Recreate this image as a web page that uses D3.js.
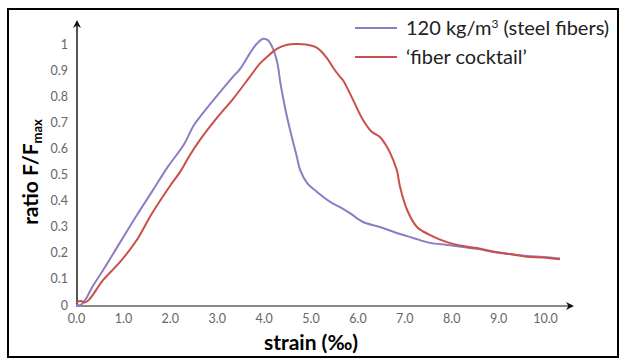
<!DOCTYPE html>
<html>
<head>
<meta charset="utf-8">
<script src="https://cdn.jsdelivr.net/npm/d3@7"></script>
<style>
  html, body { margin: 0; padding: 0; background: #fff; }
  svg { display: block; }
</style>
</head>
<body>
<svg id="chart" width="621" height="359"></svg>
<script>
// Strain (‰) and normalised force F/Fmax for the two mixes
const steelStrain = [0, 0.1, 0.2, 0.35, 0.58, 0.94, 1.3, 1.64, 1.96, 2.3, 2.5, 2.64, 3.0, 3.35, 3.5, 3.71, 3.85, 3.99, 4.09, 4.18, 4.29, 4.35, 4.41, 4.5, 4.6, 4.71, 4.78, 4.93, 5.14, 5.42, 5.63, 5.84, 6.12, 6.48, 6.84, 7.19, 7.55, 7.91, 8.25, 8.55, 8.89, 9.25, 9.62, 9.96, 10.32];
const steelRatio  = [0, 0.0, 0.02, 0.07, 0.134, 0.24, 0.345, 0.44, 0.53, 0.615, 0.685, 0.72, 0.80, 0.875, 0.905, 0.965, 1.0, 1.02, 1.015, 0.99, 0.93, 0.86, 0.80, 0.72, 0.645, 0.567, 0.517, 0.467, 0.433, 0.395, 0.375, 0.352, 0.318, 0.299, 0.276, 0.257, 0.238, 0.23, 0.222, 0.215, 0.203, 0.195, 0.188, 0.184, 0.178];

const cocktailStrain = [0, 0.1, 0.2, 0.3, 0.58, 0.94, 1.3, 1.6, 2.0, 2.22, 2.43, 2.64, 3.0, 3.35, 3.71, 3.92, 4.07, 4.29, 4.5, 4.7, 4.9, 5.14, 5.35, 5.48, 5.63, 5.69, 5.91, 6.12, 6.3, 6.48, 6.6, 6.7, 6.84, 6.91, 7.06, 7.27, 7.55, 7.91, 8.25, 8.55, 8.89, 9.25, 9.62, 9.96, 10.32];
const cocktailRatio  = [0.01, 0.015, 0.01, 0.025, 0.096, 0.165, 0.25, 0.345, 0.455, 0.51, 0.575, 0.632, 0.716, 0.79, 0.875, 0.925, 0.95, 0.982, 0.997, 1.0, 0.998, 0.985, 0.946, 0.91, 0.874, 0.862, 0.785, 0.709, 0.665, 0.644, 0.615, 0.582, 0.517, 0.452, 0.364, 0.299, 0.268, 0.241, 0.226, 0.218, 0.205, 0.195, 0.185, 0.182, 0.175];

const xTicks = [0, 1, 2, 3, 4, 5, 6, 7, 8, 9, 10];
const yTicks = [0, 0.1, 0.2, 0.3, 0.4, 0.5, 0.6, 0.7, 0.8, 0.9, 1];

const seriesNames  = ["120 kg/m³ (steel fibers)", "‘fiber cocktail’"];
const seriesColors = ["#8f7cc4", "#c9504a"];

const svg = d3.select("#chart");
const font = "Lato, 'Open Sans', sans-serif";

const x = d3.scaleLinear().domain([0, 10]).range([76, 545]);
const y = d3.scaleLinear().domain([0, 1]).range([305, 44]);

// outer frame
svg.append("rect")
  .attr("x", 8).attr("y", 9).attr("width", 610).attr("height", 348)
  .attr("fill", "none").attr("stroke", "#000").attr("stroke-width", 2);

// arrowheads
const defs = svg.append("defs");
defs.append("marker")
  .attr("id", "arrow").attr("viewBox", "0 0 10 10")
  .attr("refX", 5).attr("refY", 5)
  .attr("markerWidth", 4).attr("markerHeight", 4)
  .attr("orient", "auto")
  .append("path").attr("d", "M0,0 L10,5 L0,10 L3,5 Z").attr("fill", "#111");

// y axis (labels only, no tick marks)
const yAxis = d3.axisLeft(y).tickValues(yTicks).tickSize(0).tickPadding(9)
  .tickFormat(d => d === 0 ? "0" : d === 1 ? "1" : d3.format(".1f")(d));
const gy = svg.append("g").attr("transform", `translate(${x(0) + 1},0)`).call(yAxis);
gy.select(".domain").remove();
gy.selectAll("text").attr("fill", "#666").style("font-family", font).style("font-size", "12.5px");

const xAxis = d3.axisBottom(x).tickValues(xTicks).tickSize(0).tickPadding(8)
  .tickFormat(d3.format(".1f"));
const gx = svg.append("g").attr("transform", `translate(0,${y(0) + 1})`).call(xAxis);
gx.select(".domain").remove();
gx.selectAll("text").attr("fill", "#666").style("font-family", font).style("font-size", "12.5px");

// axis lines with arrows
svg.append("line")
  .attr("x1", x(0) + 1).attr("y1", y(0) + 1).attr("x2", x(0) + 1).attr("y2", 24)
  .attr("stroke", "#555").attr("stroke-width", 2).attr("marker-end", "url(#arrow)");
svg.append("line")
  .attr("x1", x(0)).attr("y1", y(0) + 1).attr("x2", 570).attr("y2", y(0) + 1)
  .attr("stroke", "#888").attr("stroke-width", 2).attr("marker-end", "url(#arrow)");

// curves
const line = d3.line().x(d => x(d[0])).y(d => y(d[1])).curve(d3.curveCatmullRom.alpha(0.5));
const series = [
  d3.zip(steelStrain, steelRatio),
  d3.zip(cocktailStrain, cocktailRatio)
];
series.forEach((pts, i) => {
  svg.append("path").datum(pts)
    .attr("d", line)
    .attr("fill", "none")
    .attr("stroke", seriesColors[i])
    .attr("stroke-width", 2)
    .attr("stroke-linejoin", "round");
});

// legend
const legend = svg.append("g");
seriesNames.forEach((name, i) => {
  const ly = 28 + i * 29;
  legend.append("line")
    .attr("x1", 355).attr("x2", 397).attr("y1", ly).attr("y2", ly)
    .attr("stroke", seriesColors[i]).attr("stroke-width", 2);
  const t = legend.append("text")
    .attr("x", 406).attr("y", ly + 7)
    .attr("fill", "#222")
    .style("font-family", font).style("font-size", "20px");
  if (i === 0) {
    t.append("tspan").text("120 kg/m");
    t.append("tspan").attr("dy", -7).style("font-size", "12px").text("3");
    t.append("tspan").attr("dy", 7).text(" (steel fibers)");
  } else {
    t.text(name);
  }
});

// axis titles
svg.append("text")
  .attr("x", 311).attr("y", 350)
  .attr("text-anchor", "middle")
  .style("font-family", font).style("font-size", "21px").style("font-weight", "bold")
  .text("strain (‰)");

const yt = svg.append("text")
  .attr("transform", "translate(38,172) rotate(-90)")
  .attr("text-anchor", "middle")
  .style("font-family", font).style("font-size", "21px").style("font-weight", "bold");
yt.append("tspan").text("ratio F/F");
yt.append("tspan").attr("dy", 4).style("font-size", "13px").text("max");
</script>
</body>
</html>
